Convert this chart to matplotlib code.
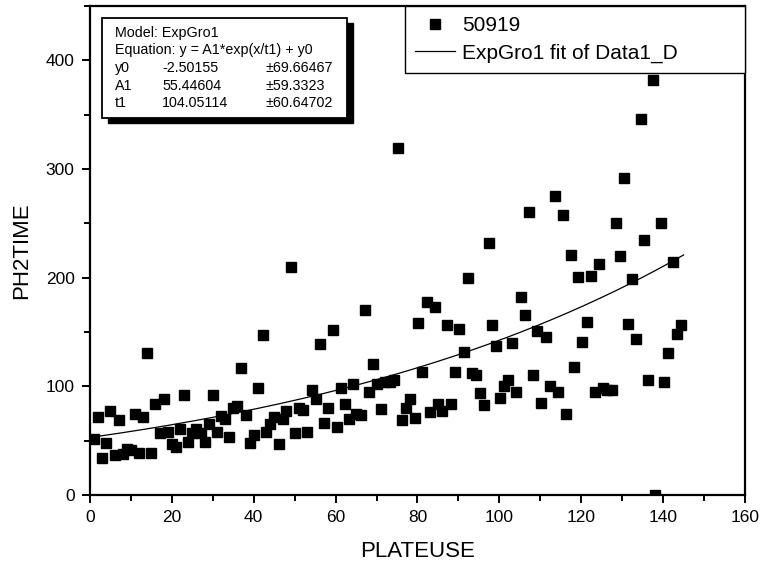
"""Scatter of PH2TIME against PLATEUSE with an ExpGro1 fit."""

import matplotlib
import matplotlib.pyplot as plt
import numpy as np
from matplotlib.patches import Rectangle
from matplotlib.ticker import MultipleLocator

matplotlib.use("AGG")

plt.rcParams["font.family"] = ["Liberation Sans", "DejaVu Sans"]

# data
plateuse = [
    1, 2, 3, 4, 5, 6, 7, 8, 9, 10, 11, 12, 13, 14, 15, 16, 17, 18, 19, 20,
    21, 22, 23, 24, 25, 26, 27, 28, 29, 30, 31, 32, 33, 34, 35, 36, 37, 38, 39, 40,
    41.1, 42.2, 43.0, 44.0, 44.9, 46.1, 47.1, 48.0, 49.2, 50.1, 51.1, 52.1, 53.1,
    54.2, 55.2, 56.2, 57.2, 58.1, 59.3, 60.3, 61.2, 62.2, 63.2, 64.2, 65.1, 66.3,
    67.1, 68.1, 69.2, 70.2, 71.2, 72.1, 73.3, 74.3, 75.3, 76.2, 77.2, 78.2, 79.3,
    80.1, 81.0, 82.3, 83.1, 84.3, 85.1, 86.1, 87.2, 88.2, 89.2, 90.1, 91.3, 92.3,
    93.2, 94.2, 95.2, 96.2, 97.4, 98.3, 99.2, 100.2, 101.2, 102.2, 103.1, 104.1,
    105.3, 106.3, 107.3, 108.2, 109.2, 110.2, 111.3, 112.3, 113.6, 114.4, 115.6,
    116.3, 117.5, 118.3, 119.3, 120.3, 121.5, 122.4, 123.4, 124.4, 125.4, 126.4,
    127.4, 128.5, 129.5, 130.5, 131.5, 132.5, 133.4, 134.5, 135.4, 136.2, 137.6,
    138.1, 139.4, 140.3, 141.3, 142.3, 143.3, 144.3,
]
ph2time = [
    52, 72, 34, 48, 77, 37, 69, 38, 42, 41.5, 75, 39, 72, 131, 39, 84, 57, 88, 58, 47,
    44, 61, 92, 49, 57, 61, 57, 49, 65, 92, 58, 73, 70, 53, 80, 81.5, 117, 74, 48, 55,
    98.5, 147, 58, 65.5, 72, 47, 70, 77, 210, 57, 80, 78, 58,
    97, 88, 139, 66, 80, 152, 63, 98.5, 84, 70, 102.5, 75, 74,
    170, 95, 121, 102.5, 79, 104, 104, 105.5, 319, 69, 80, 88, 71,
    158, 113, 177.5, 76, 173, 84, 77, 156, 84, 113, 153, 132, 200,
    112, 110, 94, 83, 232, 156, 137, 89.5, 100, 105.5, 140, 94.5,
    182.5, 166, 260, 110.5, 151, 85, 145, 100, 275.5, 94.5, 257.6,
    75, 220.7, 118, 200.5, 141, 159, 202, 95, 213, 98.5, 97,
    97, 250, 220, 292, 157, 198.5, 144, 346, 234.5, 105.5, 382,
    0, 250, 104, 131, 214, 148, 156,
]

# ExpGro1 fit parameters
y0, y0_err = -2.50155, 69.66467
a1, a1_err = 55.44604, 59.3323
t1, t1_err = 104.05114, 60.64702
fit_range = (1, 145)


def draw_param_box(ax):
    """Ritar rutan med modellparametrarna uppe till vänster."""
    ax.add_patch(Rectangle((0.027, 0.761), 0.374, 0.204, transform=ax.transAxes,
                           facecolor="black", edgecolor="black", zorder=5))
    ax.add_patch(Rectangle((0.018, 0.771), 0.374, 0.204, transform=ax.transAxes,
                           facecolor="white", edgecolor="black", lw=1.3, zorder=6))

    kw = dict(transform=ax.transAxes, fontsize=10.3, va="center", zorder=7)
    ax.text(0.038, 0.945, "Model: ExpGro1", **kw)
    ax.text(0.038, 0.910, "Equation: y = A1*exp(x/t1) + y0", **kw)
    rows = [("y0", y0, y0_err), ("A1", a1, a1_err), ("t1", t1, t1_err)]
    for i, (name, val, err) in enumerate(rows):
        ypos = 0.873 - i * 0.036
        ax.text(0.038, ypos, name, **kw)
        ax.text(0.110, ypos, "{:.5f}".format(val), **kw)
        ax.text(0.268, ypos, "\u00b1{}".format(err), **kw)


def draw_chart():
    fig = plt.figure(figsize=(7.64, 5.68), dpi=100)
    ax = fig.add_axes([0.1178, 0.1285, 0.8573, 0.8609])

    ax.plot(plateuse, ph2time, "s", color="black", markersize=7.5,
            label="50919", zorder=3)

    xs = np.linspace(fit_range[0], fit_range[1], 300)
    ax.plot(xs, a1 * np.exp(xs / t1) + y0, color="black", lw=0.9,
            label="ExpGro1 fit of Data1_D", zorder=2)

    ax.set_xlim(0, 160)
    ax.set_ylim(0, 450)
    ax.xaxis.set_major_locator(MultipleLocator(20))
    ax.xaxis.set_minor_locator(MultipleLocator(10))
    ax.yaxis.set_major_locator(MultipleLocator(100))
    ax.yaxis.set_minor_locator(MultipleLocator(50))
    ax.tick_params(which="both", direction="out", width=1.4, labelsize=12.5)
    ax.tick_params(which="major", length=6, pad=5)
    ax.tick_params(which="minor", length=4)
    for spine in ax.spines.values():
        spine.set_linewidth(1.6)

    ax.set_xlabel("PLATEUSE", fontsize=16, labelpad=11)
    ax.set_ylabel("PH2TIME", fontsize=16, labelpad=10)

    draw_param_box(ax)

    leg = ax.legend(loc="upper left", bbox_to_anchor=(0.481, 0.853, 0.519, 0.147),
                    mode="expand", borderaxespad=0, fontsize=15, numpoints=1,
                    fancybox=False, framealpha=1, edgecolor="black",
                    borderpad=0.5, labelspacing=0.4, handlelength=1.9,
                    handletextpad=0.35)
    leg.get_frame().set_linewidth(1.0)

    fig.savefig("out.png", dpi=100)


if __name__ == "__main__":
    draw_chart()
